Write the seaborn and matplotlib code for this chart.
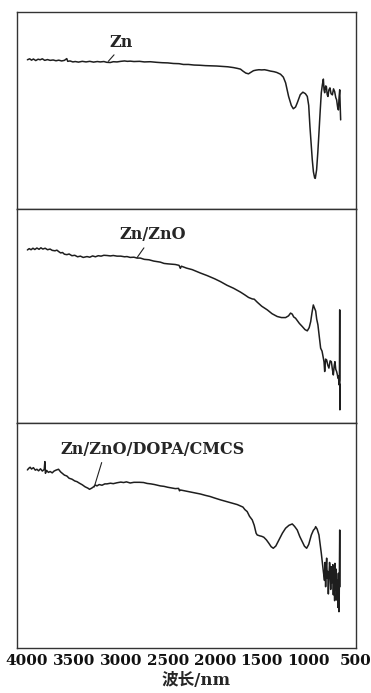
"""FTIR spectra of the Zn, Zn/ZnO and Zn/ZnO/DOPA/CMCS samples."""

import matplotlib

matplotlib.use("Agg")
import matplotlib.pyplot as plt
import pandas as pd
import seaborn as sns

# ---- data (wavenumber, relative transmittance) ----
zn_x = [3994, 3970, 3950, 3930, 3905, 3880, 3858, 3835, 3810, 3780, 3752, 3720, 3690, 3660,
        3630, 3600, 3575, 3565, 3540, 3510, 3485, 3450, 3410, 3370, 3330, 3290, 3250, 3219,
        3180, 3150, 3112, 3080, 3040, 3000, 2960, 2930, 2899, 2860, 2800, 2750, 2686, 2620,
        2560, 2500, 2440, 2380, 2334, 2280, 2220, 2160, 2100, 2040, 1980, 1920, 1860, 1801,
        1760, 1726, 1700, 1670, 1641, 1615, 1588, 1560, 1530, 1500, 1470, 1440, 1407, 1370,
        1340, 1300, 1270, 1246, 1214, 1185, 1164, 1140, 1122, 1090, 1062, 1035, 1015, 1000,
        987, 975, 962, 950, 937, 930, 916, 903, 891, 878, 866, 855, 844, 837, 830, 820, 812,
        803, 795, 785, 774, 762, 748, 736, 724, 712, 703, 692, 684, 677, 670, 665, 660]
zn_y = [75.4, 75.9, 75.2, 75.8, 75.0, 75.7, 75.4, 75.9, 75.1, 75.5, 75.1, 75.3, 74.9, 75.2,
        74.8, 75.1, 76.0, 74.6, 74.8, 74.3, 74.5, 74.2, 74.6, 74.3, 74.6, 74.2, 74.5, 74.3,
        74.5, 74.1, 74.0, 74.4, 74.3, 74.6, 74.8, 74.6, 74.7, 74.5, 74.6, 74.3, 74.4, 74.1,
        73.9, 73.8, 73.5, 73.4, 73.0, 73.0, 72.7, 72.6, 72.4, 72.3, 72.2, 72.0, 71.8, 71.4,
        71.0, 70.6, 69.6, 68.6, 68.2, 69.0, 69.8, 70.1, 70.3, 70.2, 70.3, 70.0, 69.6, 69.3,
        68.9, 68.0, 66.5, 63.6, 56.6, 52.0, 50.3, 51.2, 53.3, 57.5, 58.8, 58.0, 56.6, 52.0,
        41.2, 33.0, 24.1, 18.0, 14.9, 14.6, 19.0, 28.0, 37.9, 49.0, 58.5, 62.5, 65.5, 60.0,
        58.5, 62.0, 61.7, 57.5, 56.6, 60.0, 61.0, 58.0, 57.4, 60.5, 59.1, 56.0, 54.9, 51.0,
        49.7, 56.0, 60.0, 52.0, 44.6]

znzno_x = [3994, 3975, 3955, 3935, 3915, 3893, 3870, 3850, 3830, 3805, 3780, 3752, 3730, 3700,
           3680, 3660, 3640, 3620, 3600, 3574, 3550, 3520, 3490, 3460, 3430, 3400, 3360, 3330,
           3300, 3270, 3240, 3210, 3180, 3147, 3110, 3080, 3040, 3000, 2960, 2934, 2900, 2860,
           2827, 2792, 2750, 2700, 2650, 2579, 2540, 2500, 2420, 2380, 2366, 2355, 2300, 2240,
           2152, 2080, 2000, 1939, 1870, 1800, 1726, 1680, 1640, 1600, 1580, 1548, 1500, 1441,
           1390, 1335, 1290, 1246, 1215, 1193, 1175, 1160, 1140, 1100, 1068, 1040, 1015, 995,
           979, 965, 951, 940, 926, 915, 902, 888, 873, 858, 844, 837, 830, 820, 809, 797, 785,
           772, 759, 748, 738, 728, 721, 712, 703, 695, 689, 683, 678, 673, 670, 668, 666]
znzno_y = [80.8, 81.4, 80.9, 81.6, 81.0, 81.7, 81.1, 81.8, 81.2, 81.6, 80.9, 81.2, 80.6, 80.4,
           80.7, 80.0, 79.4, 79.6, 78.8, 78.6, 78.9, 78.1, 78.3, 77.6, 77.9, 77.3, 77.7, 77.4,
           78.0, 77.6, 78.1, 77.9, 78.3, 78.2, 78.0, 78.2, 77.9, 77.9, 77.6, 77.7, 77.3, 77.4,
           77.0, 77.0, 76.4, 76.2, 75.6, 75.1, 74.5, 74.3, 74.0, 73.6, 72.2, 73.2, 72.3, 71.6,
           70.0, 68.8, 67.3, 66.0, 64.3, 62.9, 61.1, 59.8, 58.6, 57.9, 57.8, 56.4, 54.5, 52.8,
           51.0, 49.7, 49.2, 49.2, 50.0, 51.3, 50.8, 49.5, 48.9, 46.5, 45.0, 43.6, 43.0, 44.5,
           47.3, 51.5, 55.1, 53.8, 52.3, 48.5, 45.8, 40.5, 34.9, 33.5, 30.2, 28.5, 24.0, 29.8,
           29.4, 27.0, 25.6, 29.0, 28.6, 25.0, 22.4, 27.0, 28.6, 25.0, 24.0, 22.5, 20.9, 22.0,
           17.8, 20.0, 52.8, 6.1, 18.0]

dopa_x = [3994, 3980, 3965, 3950, 3930, 3910, 3893, 3875, 3855, 3835, 3815, 3808, 3802, 3790,
          3770, 3752, 3730, 3710, 3690, 3663, 3640, 3620, 3600, 3574, 3550, 3520, 3490, 3467,
          3440, 3410, 3380, 3350, 3333, 3310, 3290, 3270, 3254, 3230, 3200, 3170, 3147, 3110,
          3080, 3040, 3000, 2970, 2940, 2900, 2860, 2800, 2757, 2720, 2680, 2640, 2600, 2579,
          2540, 2500, 2460, 2420, 2385, 2375, 2366, 2320, 2280, 2240, 2200, 2152, 2100, 2050,
          2000, 1939, 1880, 1820, 1760, 1726, 1700, 1680, 1655, 1630, 1601, 1580, 1560, 1548,
          1520, 1500, 1478, 1450, 1424, 1400, 1377, 1350, 1317, 1280, 1246, 1210, 1175, 1150,
          1122, 1095, 1068, 1045, 1022, 1000, 972, 950, 935, 926, 910, 891, 878, 866, 855, 844,
          832, 826, 820, 814, 809, 803, 797, 791, 785, 778, 772, 766, 759, 753, 748, 743, 738,
          733, 728, 724, 721, 716, 712, 707, 703, 698, 694, 689, 684, 680, 678, 675, 670, 667]
dopa_y = [79.1, 79.8, 80.3, 79.5, 80.1, 79.0, 79.4, 78.7, 79.6, 78.6, 79.3, 82.8, 77.6, 78.9,
          78.0, 78.4, 77.8, 78.6, 79.0, 79.4, 78.2, 77.5, 76.8, 76.4, 75.4, 75.0, 74.2, 73.9,
          73.2, 72.5, 71.6, 71.0, 70.5, 71.0, 71.6, 72.4, 72.0, 72.6, 72.3, 72.9, 72.9, 73.2,
          73.0, 73.4, 73.7, 73.5, 73.8, 73.3, 73.6, 73.6, 73.5, 73.1, 72.9, 72.6, 72.2, 72.0,
          71.8, 71.4, 71.1, 70.8, 70.9, 69.8, 70.2, 69.8, 69.5, 69.1, 68.8, 68.4, 67.8, 67.3,
          66.6, 65.8, 65.1, 64.4, 63.7, 63.1, 62.6, 61.5, 60.6, 58.5, 56.9, 54.5, 51.0, 50.2,
          49.8, 49.6, 49.2, 48.0, 46.5, 45.0, 44.3, 45.3, 48.0, 51.0, 53.2, 54.5, 55.1, 54.0,
          52.4, 49.5, 47.2, 45.2, 44.3, 46.0, 50.2, 52.3, 53.0, 53.9, 52.8, 50.2, 46.0, 42.1,
          38.0, 33.9, 30.0, 38.0, 27.2, 36.0, 39.9, 31.0, 34.0, 24.0, 31.7, 38.0, 34.5, 26.0,
          36.1, 29.0, 30.0, 37.0, 23.6, 33.0, 30.0, 21.0, 37.6, 26.0, 28.0, 35.0, 21.3, 30.0,
          27.0, 18.0, 33.2, 22.0, 16.1, 24.0, 52.4, 27.2]

sample_names = ["Zn", "Zn/ZnO", "Zn/ZnO/DOPA/CMCS"]
x_ticks = [4000, 3500, 3000, 2500, 2000, 1500, 1000, 500]
x_label = "波长/nm"

# label position, leader end point and where the leader leaves the text
label_pos = [(2994, 84.5), (2664, 87.8), (2659, 88.2)]
leader_end = [(3133, 74.6), (2827, 77.2), (3283, 71.5)]
leader_rel = [(0.35, 0.0), (0.42, 0.0), (0.23, 0.0)]

sns.set_style("white")
plt.rcParams["font.family"] = ["DejaVu Serif", "Noto Sans CJK SC"]
plt.rcParams["font.weight"] = "bold"

spectra = [
    pd.DataFrame({"wavenumber": zn_x, "T": zn_y}),
    pd.DataFrame({"wavenumber": znzno_x, "T": znzno_y}),
    pd.DataFrame({"wavenumber": dopa_x, "T": dopa_y}),
]
ylims = [(-1.0, 100.0), (0.0, 100.0), (0.0, 100.0)]

fig, axes = plt.subplots(
    3, 1, figsize=(3.71, 6.93), dpi=100, sharex=True,
    gridspec_kw={"height_ratios": [197, 214, 225], "hspace": 0},
)
fig.subplots_adjust(left=0.047, right=0.96, top=0.983, bottom=0.065)

for i, ax in enumerate(axes):
    sns.lineplot(data=spectra[i], x="wavenumber", y="T", ax=ax, color="#1e1e1e",
                 linewidth=1.1, sort=False, estimator=None)
    ax.set_ylim(*ylims[i])
    ax.set_xlim(4100, 495)
    ax.set_yticks([])
    ax.set_ylabel("")
    ax.set_xlabel("")
    for s in ax.spines.values():
        s.set_color("#333333")
        s.set_linewidth(1.0)
    ax.annotate(
        sample_names[i], xy=leader_end[i], xytext=label_pos[i],
        ha="center", va="center", fontsize=11.5, fontweight="bold",
        arrowprops=dict(arrowstyle="-", lw=0.8, color="#222222",
                        relpos=leader_rel[i], shrinkA=1, shrinkB=0),
    )
    if i < 2:
        ax.tick_params(axis="x", which="both", bottom=False, labelbottom=False)

bottom = axes[-1]
bottom.set_xticks(x_ticks)
bottom.set_xticklabels([str(t) for t in x_ticks])
bottom.tick_params(axis="x", direction="in", length=6, width=0.9, pad=4,
                   labelsize=11, colors="#111111")
bottom.set_xlabel(x_label, fontsize=12, fontweight="bold", labelpad=3, x=0.528)

fig.savefig("out.png", dpi=100)
